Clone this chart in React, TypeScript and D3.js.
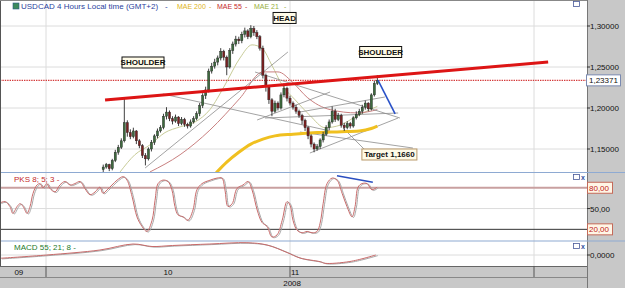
import React from "react";
import * as d3 from "d3";

const W = 625;
const H = 288;

// bar index: 0 = 1 Oct 2008, 81 = 1 Nov, 162 = 1 Dec (one 4h bar every ~3px)
const firstBar = 19;
const firstOpen = 1.125;
const closes = [
  1.128, 1.131, 1.126, 1.136, 1.146, 1.152, 1.16, 1.182, 1.17, 1.165,
  1.172, 1.16, 1.154, 1.142, 1.138, 1.15, 1.158, 1.166, 1.172, 1.176,
  1.19, 1.195, 1.187, 1.184, 1.189, 1.181, 1.186, 1.18, 1.178, 1.183,
  1.187, 1.193, 1.203, 1.215, 1.222, 1.245, 1.251, 1.256, 1.261, 1.269,
  1.262, 1.25, 1.27, 1.278, 1.284, 1.282, 1.29, 1.294, 1.287, 1.297,
  1.292, 1.287, 1.273, 1.24, 1.226, 1.21, 1.196, 1.206, 1.2, 1.216,
  1.224, 1.212, 1.206, 1.201, 1.196, 1.191, 1.185, 1.176, 1.166, 1.156,
  1.15, 1.153, 1.161, 1.168, 1.176, 1.183, 1.196, 1.186, 1.191, 1.179,
  1.176, 1.181, 1.178, 1.188, 1.192, 1.196, 1.201, 1.206, 1.199, 1.216,
  1.23, 1.2337,
];
const highs = [
  1.131, 1.133, 1.132, 1.138, 1.149, 1.155, 1.163, 1.213, 1.185, 1.174,
  1.176, 1.173, 1.162, 1.156, 1.145, 1.152, 1.161, 1.168, 1.175, 1.179,
  1.193, 1.201, 1.197, 1.19, 1.192, 1.19, 1.189, 1.188, 1.182, 1.186,
  1.19, 1.196, 1.206, 1.218, 1.226, 1.248, 1.255, 1.26, 1.264, 1.273,
  1.271, 1.264, 1.273, 1.281, 1.288, 1.287, 1.293, 1.298, 1.296, 1.301,
  1.3, 1.295, 1.289, 1.276, 1.242, 1.228, 1.212, 1.209, 1.208, 1.219,
  1.23, 1.226, 1.215, 1.208, 1.204, 1.198, 1.193, 1.187, 1.178, 1.168,
  1.158, 1.156, 1.163, 1.171, 1.179, 1.186, 1.202, 1.199, 1.194, 1.193,
  1.182, 1.184, 1.183, 1.19, 1.196, 1.199, 1.204, 1.209, 1.207, 1.218,
  1.233, 1.24,
];
const lows = [
  1.122, 1.126, 1.123, 1.124, 1.134, 1.143, 1.15, 1.158, 1.165, 1.162,
  1.163, 1.156, 1.151, 1.139, 1.13, 1.136, 1.147, 1.155, 1.163, 1.17,
  1.174, 1.186, 1.184, 1.18, 1.182, 1.178, 1.179, 1.177, 1.175, 1.176,
  1.181, 1.185, 1.19, 1.2, 1.211, 1.219, 1.242, 1.248, 1.252, 1.258,
  1.258, 1.24, 1.248, 1.266, 1.275, 1.278, 1.279, 1.286, 1.284, 1.285,
  1.288, 1.284, 1.27, 1.236, 1.22, 1.205, 1.19, 1.194, 1.197, 1.198,
  1.213, 1.208, 1.203, 1.198, 1.193, 1.188, 1.18, 1.172, 1.162, 1.152,
  1.146, 1.148, 1.15, 1.158, 1.166, 1.173, 1.181, 1.183, 1.184, 1.176,
  1.172, 1.174, 1.175, 1.176, 1.186, 1.19, 1.193, 1.198, 1.196, 1.197,
  1.214, 1.228,
];
const lastPrice = 1.23371;

// moving averages, read at a few bars
const ma200Bars = [56.5, 60, 64, 68, 72, 76, 82, 90, 98, 104, 108, 110];
const ma200Vals = [1.121, 1.134, 1.146, 1.156, 1.162, 1.166, 1.168, 1.17, 1.171, 1.172, 1.175, 1.178];
const ma55Bars = [34.5, 44.5, 54.4, 64.4, 72, 77, 81.7, 86.7, 94.3, 103.3, 110];
const ma55Vals = [1.122, 1.143, 1.173, 1.212, 1.244, 1.244, 1.232, 1.213, 1.198, 1.194, 1.198];
const ma21Bars = [24.6, 29.5, 34.5, 39.5, 44.5, 49.5, 54.4, 59.4, 64.4, 68.4, 71.7, 75, 78.4, 82.7, 87.6, 92.6, 97.6, 102.6, 107.6, 110];
const ma21Vals = [1.122, 1.143, 1.155, 1.17, 1.177, 1.183, 1.198, 1.228, 1.261, 1.277, 1.273, 1.252, 1.228, 1.21, 1.191, 1.176, 1.179, 1.189, 1.198, 1.202];

// drawn lines: [bar1, price1, bar2, price2]
const neckline = [19.6, 1.2098, 166.7, 1.2561];
const projection = [110.2, 1.2341, 115.9, 1.1927];
const trendLines = [
  [38.8, 1.2171, 94.3, 1.172],
  [32.9, 1.1268, 80.3, 1.2683],
  [87.6, 1.1451, 116.9, 1.1878],
  [84.3, 1.1951, 112.5, 1.2134],
  [84.3, 1.1707, 121.8, 1.1512],
  [70.1, 1.1854, 94.3, 1.2195],
  [69.4, 1.2439, 117.5, 1.1878],
  [72.7, 1.1878, 116.9, 1.1939],
  [98.6, 1.1756, 105.9, 1.1488],
];

const tagTexts = ["HEAD", "SHOULDER", "SHOULDER", "Target 1,1660"];
const tagBars = [79.2, 32.2, 111.1, 114.0];
const tagPrices = [1.3098, 1.2555, 1.2683, 1.1433];

// stochastic PKS 8;5;3
const pksBars = [
  -15.3, -13.6, -12, -11, -9.6, -8.6, -7.6, -6.3, -5.3, -4.3, -3, -2, -1, 0.3, 1.3, 3, 4.6, 6.3, 8, 9.6,
  11.3, 12.9, 14.6, 16.3, 17.9, 18.9, 20.3, 21.9, 23.6, 25.6, 26.9, 28.6, 30.2, 31.9, 33.5, 35.2, 36.2, 37.2, 38.8, 40.5,
  41.8, 42.8, 43.8, 45.5, 47.1, 48.8, 50.1, 51.8, 54.5, 56.8, 58.4, 59.4, 60.4, 61.8, 63.4, 65.4, 67.1, 68.4, 70.1, 71.7,
  73.4, 75, 76.7, 78.4, 80, 81, 82, 83.3, 85, 86.7, 88.3, 90, 91, 92, 93.3, 95, 96.6, 98.3, 99.9, 101.6,
  102.6, 103.6, 104.9, 106.6, 108.2, 109.9,
];
const pksVals = [
  58, 60, 53, 43, 53, 57, 53, 43, 53, 72, 84, 86, 80, 86, 79, 74, 84, 89, 84, 86,
  89, 79, 70, 74, 81, 72, 77, 84, 91, 96, 91, 67, 38, 24, 17, 33, 62, 86, 91, 89,
  77, 53, 41, 38, 33, 48, 77, 86, 91, 94, 94, 77, 53, 57, 79, 84, 89, 77, 48, 30,
  24, 9, 12, 33, 60, 55, 33, 19, 15, 17, 15, 17, 29, 57, 86, 94, 91, 72, 53, 38,
  53, 81, 86, 86, 77, 81,
];
const pksLevels = [80, 50, 20];
const pksDiverge = [96.6, 97.4, 108.5, 87.9];

// MACD 55;21;8
const macdBars = [-15.3, 0.3, 17.9, 28.9, 35.2, 42, 54.4, 66.7, 73.4, 80, 84.3, 91, 92.6, 100.9, 109.5];
const macdVals = [-0.0033, 0, 0.005, 0.011, 0.0085, 0.0095, 0.011, 0.0123, 0.01, 0.0025, -0.003, -0.0067, -0.0083, -0.0065, 0];

const priceTicks = [1.15, 1.2, 1.25, 1.3];
const monthBreaks = [0, 81, 162];
const monthLabels = ["09", "10", "11"];
const monthLabelBars = [-9, 40.5, 82.7];
const yearLabel = "2008";
const yearLabelBar = 81.7;

const tagWidths: Record<string, number> = { HEAD: 23, SHOULDER: 42, "Target 1,1660": 55 };

const loc = d3.formatLocale({ decimal: ",", thousands: ".", grouping: [3], currency: ["", ""] });
const f5 = loc.format(".5f");
const f2 = loc.format(".2f");
const f4 = loc.format(".4f");

const FONT = "'Liberation Sans', Arial, sans-serif";
const PLOT_R = 587;

export default function App() {
  const x = d3.scaleLinear().domain([0, 81]).range([46, 290]);
  const yP = d3.scaleLinear().domain([1.15, 1.3]).range([149, 26]);
  const yK = d3.scaleLinear().domain([0, 100]).range([243.2, 173.9]);
  const yM = d3.scaleLinear().domain([-0.011, 0.014]).range([266, 241]);

  const pLine = d3
    .line<[number, number]>()
    .x((d) => x(d[0]))
    .y((d) => yP(d[1]))
    .curve(d3.curveMonotoneX);
  const kLine = d3
    .line<[number, number]>()
    .x((d) => x(d[0]))
    .y((d) => yK(d[1]))
    .curve(d3.curveCatmullRom);
  const mLine = d3
    .line<[number, number]>()
    .x((d) => x(d[0]))
    .y((d) => yM(d[1]))
    .curve(d3.curveCatmullRom);

  const zip = (a: number[], b: number[]) => a.map((v, i) => [v, b[i]] as [number, number]);

  const candles = closes.map((c, i) => ({
    bar: firstBar + i,
    o: i === 0 ? firstOpen : closes[i - 1],
    c,
    h: highs[i],
    l: lows[i],
  }));

  const seg = (s: number[], yy: (v: number) => number) => ({
    x1: x(s[0]),
    y1: yy(s[1]),
    x2: x(s[2]),
    y2: yy(s[3]),
  });

  const icons = (yy: number, close: boolean) => (
    <g>
      <rect x={573.5} y={yy - 3.5} width={6} height={5} fill="#fff" stroke="#4a5a9a" strokeWidth={0.8} />
      {close && (
        <text x={581} y={yy + 1.5} fontSize={7} fontFamily={FONT} fill="#3050a0" fontWeight="bold">
          x
        </text>
      )}
    </g>
  );

  return (
    <div style={{ position: "absolute", left: 0, top: 0 }}>
      <svg width={W} height={H} style={{ display: "block" }}>
        <defs>
          <clipPath id="cpPrice">
            <rect x={1} y={1} width={PLOT_R - 1} height={171} />
          </clipPath>
          <clipPath id="cpK">
            <rect x={1} y={172} width={PLOT_R - 1} height={69} />
          </clipPath>
          <clipPath id="cpM">
            <rect x={1} y={241} width={PLOT_R - 1} height={25} />
          </clipPath>
        </defs>
        <rect x={0} y={0} width={W} height={H} fill="#fff" />

        {/* grids */}
        {priceTicks.map((t) => (
          <line key={t} x1={0} x2={PLOT_R} y1={yP(t)} y2={yP(t)} stroke="#dcdcdc" />
        ))}
        {monthBreaks.map((b) => (
          <line key={b} x1={x(b)} x2={x(b)} y1={0} y2={266} stroke="#dcdcdc" />
        ))}
        <line x1={0} x2={PLOT_R} y1={yK(50)} y2={yK(50)} stroke="#dcdcdc" />
        <line x1={0} x2={PLOT_R} y1={yM(0)} y2={yM(0)} stroke="#dcdcdc" />

        {/* price panel */}
        <g clipPath="url(#cpPrice)">
          <line x1={0} x2={PLOT_R} y1={yP(lastPrice)} y2={yP(lastPrice)} stroke="#d43a3a" strokeWidth={1.4} strokeDasharray="1.4,1" />
          <path d={pLine(zip(ma21Bars, ma21Vals)) || ""} fill="none" stroke="#c8cc98" strokeWidth={1} />
          <path d={pLine(zip(ma55Bars, ma55Vals)) || ""} fill="none" stroke="#c98080" strokeWidth={1} />
          {trendLines.map((s, i) => (
            <line key={i} {...seg(s, yP)} stroke="#8c8c8c" strokeWidth={0.8} />
          ))}
          <path d={pLine(zip(ma200Bars, ma200Vals)) || ""} fill="none" stroke="#f0c020" strokeWidth={3} />
          {candles.map((d) => {
            const up = d.c >= d.o;
            const col = up ? "#3d6a3d" : "#7a2020";
            const top = yP(Math.max(d.o, d.c));
            const bot = yP(Math.min(d.o, d.c));
            return (
              <g key={d.bar}>
                <line x1={x(d.bar)} x2={x(d.bar)} y1={yP(d.h)} y2={yP(d.l)} stroke="#2a2a2a" strokeWidth={0.9} />
                <rect x={x(d.bar) - 1.1} y={top} width={2.2} height={Math.max(1, bot - top)} fill={col} stroke="#222" strokeWidth={0.4} />
              </g>
            );
          })}
          <line {...seg(neckline, yP)} stroke="#dd1515" strokeWidth={3} />
          <line {...seg(projection, yP)} stroke="#2a52c8" strokeWidth={1.6} />
          {tagTexts.map((t, i) => {
            const w = tagWidths[t];
            const cx = x(tagBars[i]);
            const cy = yP(tagPrices[i]);
            const target = t.startsWith("Target");
            return (
              <g key={i}>
                <rect
                  x={cx - w / 2}
                  y={cy - 5.5}
                  width={w}
                  height={11}
                  fill="#fffbe8"
                  stroke={target ? "#b89868" : "#111"}
                  strokeWidth={1}
                />
                <text
                  x={cx}
                  y={cy + 3}
                  textAnchor="middle"
                  fontSize={8}
                  fontFamily={FONT}
                  fontWeight="bold"
                  fill="#111"
                >
                  {t}
                </text>
              </g>
            );
          })}
        </g>

        {/* title */}
        <rect x={13} y={3} width={6} height={6} fill="#3c8a5c" stroke="#2a5a8a" strokeWidth={0.6} />
        <text y={9} fontSize={8} fontFamily={FONT}>
          <tspan x={21} fill="#2b3f9e">USDCAD 4 Hours Local time (GMT+2)</tspan>
          <tspan x={165} fill="#2b3f9e">-</tspan>
        </text>
        <text y={9} fontSize={7} fontFamily={FONT}>
          <tspan x={177} fill="#e0b420">MAE 200</tspan>
          <tspan x={209} fill="#e0b420">-</tspan>
          <tspan x={217} fill="#c42a2a">MAE 55</tspan>
          <tspan x={245} fill="#c42a2a">-</tspan>
          <tspan x={254} fill="#98ae3a">MAE 21</tspan>
          <tspan x={284} fill="#98ae3a">-</tspan>
        </text>
        {icons(5, false)}

        {/* stochastic panel */}
        <line x1={0} x2={PLOT_R} y1={yK(80)} y2={yK(80)} stroke="#c9a0a0" strokeWidth={2} />
        <line x1={0} x2={PLOT_R} y1={yK(20)} y2={yK(20)} stroke="#333" strokeWidth={1} />
        <g clipPath="url(#cpK)">
          <path d={kLine(zip(pksBars, pksVals)) || ""} fill="none" stroke="#a8a8a8" strokeWidth={1} transform="translate(1.4,0.6)" />
          <path d={kLine(zip(pksBars, pksVals)) || ""} fill="none" stroke="#c86a6a" strokeWidth={1} />
          <line {...seg(pksDiverge, yK)} stroke="#2a4ec0" strokeWidth={1.4} />
        </g>
        <text x={14} y={182} fontSize={8} fontFamily={FONT} fill="#c42a2a">
          PKS 8; 5; 3 -
        </text>
        {icons(178, true)}

        {/* MACD panel */}
        <g clipPath="url(#cpM)">
          <path d={mLine(zip(macdBars, macdVals)) || ""} fill="none" stroke="#a8a8a8" strokeWidth={1} transform="translate(2,0.6)" />
          <path d={mLine(zip(macdBars, macdVals)) || ""} fill="none" stroke="#c86a6a" strokeWidth={1} />
        </g>
        <text x={14} y={250} fontSize={8} fontFamily={FONT} fill="#1e7a2a">
          MACD 55; 21; 8 -
        </text>
        {icons(247, true)}

        {/* panel separators */}
        <line x1={0} x2={W} y1={172.5} y2={172.5} stroke="#8eaad2" strokeWidth={1.2} />
        <line x1={0} x2={W} y1={241} y2={241} stroke="#8eaad2" strokeWidth={1.2} />

        {/* time axis band */}
        <rect x={0} y={266} width={PLOT_R} height={22} fill="#c8c8c8" />
        <line x1={0} x2={PLOT_R} y1={266.5} y2={266.5} stroke="#666" />
        <line x1={0} x2={PLOT_R} y1={277.5} y2={277.5} stroke="#888" />
        {monthBreaks.map((b) => (
          <line key={b} x1={x(b)} x2={x(b)} y1={266} y2={277} stroke="#555" />
        ))}
        {monthLabels.map((m, i) => (
          <text key={m} x={x(monthLabelBars[i])} y={275} textAnchor="middle" fontSize={8} fontFamily={FONT} fill="#111">
            {m}
          </text>
        ))}
        <text x={x(yearLabelBar)} y={286} textAnchor="middle" fontSize={8} fontFamily={FONT} fill="#111">
          {yearLabel}
        </text>

        {/* right axis */}
        <rect x={PLOT_R} y={0} width={W - PLOT_R} height={H} fill="#c8c8c8" />
        <line x1={PLOT_R + 0.5} x2={PLOT_R + 0.5} y1={0} y2={H} stroke="#777" />
        <line x1={PLOT_R} x2={W} y1={172.5} y2={172.5} stroke="#8eaad2" strokeWidth={1.2} />
        <line x1={PLOT_R} x2={W} y1={241} y2={241} stroke="#8eaad2" strokeWidth={1.2} />
        {priceTicks.map((t) => (
          <g key={t}>
            <line x1={PLOT_R} x2={PLOT_R + 3} y1={yP(t)} y2={yP(t)} stroke="#333" />
            <text x={590} y={yP(t) + 3} fontSize={8} fontFamily={FONT} fill="#111">
              {f5(t)}
            </text>
          </g>
        ))}
        <rect x={586.5} y={yP(lastPrice) - 5.5} width={34} height={11} fill="#fff" stroke="#7a8ab0" />
        <text x={589} y={yP(lastPrice) + 3} fontSize={8} fontFamily={FONT} fill="#111">
          {f5(lastPrice)}
        </text>
        {pksLevels.map((lv) =>
          lv === 50 ? (
            <g key={lv}>
              <line x1={PLOT_R} x2={PLOT_R + 3} y1={yK(lv)} y2={yK(lv)} stroke="#333" />
              <text x={590} y={yK(lv) + 3} fontSize={8} fontFamily={FONT} fill="#111">
                {f2(lv)}
              </text>
            </g>
          ) : (
            <g key={lv}>
              <rect x={587.5} y={yK(lv) - 5.5} width={25} height={11} fill="#fff6e6" stroke="#c46a5a" />
              <text x={589} y={yK(lv) + 3} fontSize={8} fontFamily={FONT} fill="#c01818">
                {f2(lv)}
              </text>
            </g>
          )
        )}
        <line x1={PLOT_R} x2={PLOT_R + 3} y1={yM(0)} y2={yM(0)} stroke="#333" />
        <text x={590} y={yM(0) + 3} fontSize={8} fontFamily={FONT} fill="#111">
          {f4(0)}
        </text>

        {/* frame */}
        <line x1={0.5} x2={0.5} y1={0} y2={266} stroke="#555" />
        <line x1={0} x2={PLOT_R} y1={0.5} y2={0.5} stroke="#888" />
      </svg>
    </div>
  );
}
